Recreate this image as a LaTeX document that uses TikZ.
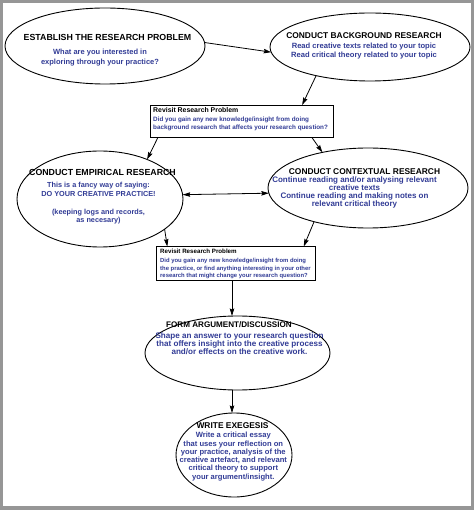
\documentclass[tikz,border=0pt]{standalone}
\usepackage{fontspec}
\setmainfont{Liberation Sans}
\usetikzlibrary{shapes.geometric,arrows.meta,calc}
\definecolor{txtblue}{RGB}{50,60,150}
\definecolor{framegray}{RGB}{150,150,150}
\newcommand\MyFont[2]{\bfseries\fontsize{#1}{#2}\selectfont}
\begin{document}
\begin{tikzpicture}[x=1pt,y=-1pt,
  ell/.style={ellipse,draw,line width=0.9pt,inner sep=0pt,outer sep=0pt},
  bx/.style={rectangle,draw,line width=0.8pt,inner sep=0pt,outer sep=0pt},
  ttl/.style={inner sep=0pt,anchor=north,text=black},
  bdy/.style={inner sep=0pt,anchor=north,align=center,text=txtblue},
  bxt/.style={inner sep=0pt,anchor=north west,align=left,text=black},
  bxb/.style={inner sep=0pt,anchor=north west,align=left,text=txtblue},
  arr/.style={-{Stealth[length=7.5pt,width=4.5pt,inset=1pt]},line width=0.8pt},
  darr/.style={{Stealth[length=7.5pt,width=4.5pt,inset=1pt]}-{Stealth[length=7.5pt,width=4.5pt,inset=1pt]},line width=0.8pt},
]
\useasboundingbox (0,0) rectangle (474,510);
\fill[framegray] (0,0) rectangle (474,510);
\fill[white] (3,3) rectangle (471,506);

% ellipse 1
\node[ell,minimum width=200pt,minimum height=76pt] (e1) at (105,46) {};
\node[ttl,font=\MyFont{8.8}{10}] (t1) at (107.5,34) {ESTABLISH THE RESEARCH PROBLEM};
\node[bdy,font=\MyFont{7.5}{10}] (d1) at (100,49) {What are you interested in\\exploring through your practice?};

% ellipse 2
\node[ell,minimum width=200pt,minimum height=68pt] (e2) at (370,47) {};
\node[ttl,font=\MyFont{8.4}{10}] (t2) at (364,32) {CONDUCT BACKGROUND RESEARCH};
\node[bdy,font=\MyFont{7.6}{9}] (d2) at (364,43) {Read creative texts related to your topic\\Read critical theory related to your topic};

% box 1
\node[bx,minimum width=183pt,minimum height=32.5pt] (b1) at (241.5,121.25) {};
\node[bxt,font=\MyFont{6.9}{8}] (bt1) at (153,107.5) {Revisit Research Problem};
\node[bxb,font=\MyFont{6.3}{8.3}] (bd1) at (153,116.5) {Did you gain any new knowledge/insight from doing\\background research that affects your research question?};

% ellipse 3
\node[ell,minimum width=166pt,minimum height=96pt] (e3) at (100,199) {};
\node[ttl,font=\MyFont{8.8}{10}] (t3) at (102.5,169) {CONDUCT EMPIRICAL RESEARCH};
\node[bdy,font=\MyFont{7.3}{8.8}] (d3) at (98.5,182) {This is a fancy way of saying:\\DO YOUR CREATIVE PRACTICE!\\[9pt](keeping logs and records,\\as necesary)};

% ellipse 4
\node[ell,minimum width=200pt,minimum height=80pt] (e4) at (368,188) {};
\node[ttl,font=\MyFont{8.4}{10}] (t4) at (364.5,168) {CONDUCT CONTEXTUAL RESEARCH};
\node[bdy,font=\MyFont{8.0}{7.9}] (d4) at (354.5,177) {Continue reading and/or analysing relevant\\creative texts\\Continue reading and making notes on\\relevant critical theory};

% box 2
\node[bx,minimum width=159pt,minimum height=34pt] (b2) at (235.5,263.5) {};
\node[bxt,font=\MyFont{6.2}{8}] (bt2) at (160,249) {Revisit Research Problem};
\node[bxb,font=\MyFont{5.9}{7.7}] (bd2) at (160,258) {Did you gain any new knowledge/insight from doing\\the practice, or find anything interesting in your other\\research that might change your research question?};

% ellipse 5
\node[ell,minimum width=185pt,minimum height=74pt] (e5) at (237.5,353) {};
\node[ttl,font=\MyFont{8.1}{10}] (t5) at (229,321.5) {FORM ARGUMENT/DISCUSSION};
\node[bdy,font=\MyFont{8.1}{8.3}] (d5) at (239.5,332) {Shape an answer to your research question\\that offers insight into the creative process\\and/or effects on the creative work.};

% ellipse 6
\node[ell,minimum width=116pt,minimum height=84pt] (e6) at (234,455) {};
\node[ttl,font=\MyFont{8.4}{10}] (t6) at (232.5,422) {WRITE EXEGESIS};
\node[bdy,font=\MyFont{7.6}{8.3}] (d6) at (233.3,432) {Write a critical essay\\that uses your reflection on\\your practice, analysis of the\\creative artefact, and relevant\\critical theory to support\\your argument/insight.};

% connectors
\coordinate (ax) at (232,300);
\draw[arr] (e1.2) -- (e2.183);
\draw[arr] (e2.208) -- (b1.15);
\draw[arr] (b1.191) -- (e3.40);
\draw[arr] (b1.-13) -- (e4.142);
\draw[darr] (e3.3) -- (e4.183);
\draw[arr] (e3.-25) -- (b2.166);
\draw[arr] (e4.212) -- (b2.14);
\draw[arr] (b2.south -| ax) -- (e5.north -| ax);
\draw[arr] (e5.south -| ax) -- (e6.north -| ax);
\end{tikzpicture}
\end{document}
